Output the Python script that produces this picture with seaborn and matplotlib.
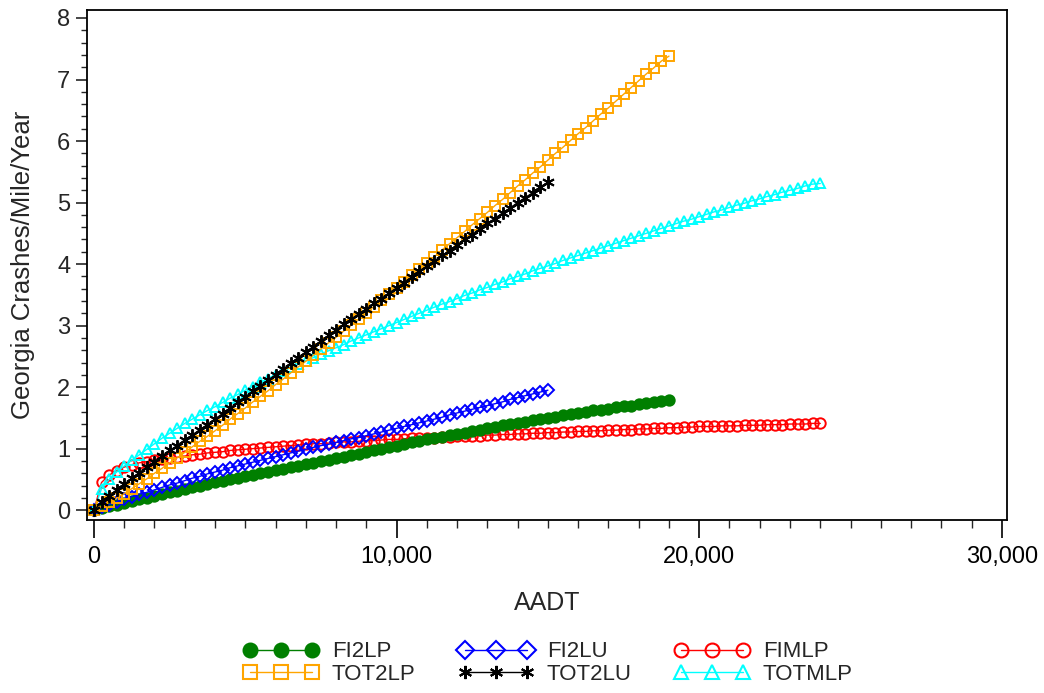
import numpy as np
import pandas as pd
import matplotlib
matplotlib.use("Agg")
import matplotlib.pyplot as plt
import seaborn as sns
from matplotlib.ticker import MultipleLocator, FuncFormatter

# ---- data (Georgia crashes / mile / year vs AADT) ----
STEP = 250
aadt_19k = np.arange(0, 19001, STEP)
aadt_15k = np.arange(0, 15001, STEP)
aadt_24k = np.arange(0, 24001, STEP)

FI2LP = [0.00, 0.03, 0.06, 0.09, 0.12, 0.15, 0.18, 0.20, 0.23, 0.26, 0.29, 0.31, 0.34,
         0.37, 0.40, 0.42, 0.45, 0.47, 0.50, 0.52, 0.55, 0.57, 0.60, 0.62, 0.65,
         0.67, 0.70, 0.72, 0.75, 0.77, 0.80, 0.82, 0.85, 0.87, 0.90, 0.92, 0.95,
         0.97, 1.00, 1.02, 1.05, 1.07, 1.10, 1.12, 1.15, 1.17, 1.19, 1.22, 1.24,
         1.26, 1.29, 1.31, 1.33, 1.35, 1.38, 1.40, 1.42, 1.44, 1.46, 1.48, 1.50,
         1.52, 1.54, 1.56, 1.58, 1.60, 1.62, 1.63, 1.65, 1.67, 1.69, 1.70, 1.72,
         1.74, 1.76, 1.77, 1.79]

TOT2LP = [0.00, 0.06, 0.13, 0.20, 0.27, 0.35, 0.43, 0.51, 0.60, 0.68, 0.77, 0.85, 0.94,
          1.03, 1.12, 1.20, 1.29, 1.38, 1.48, 1.57, 1.66, 1.76, 1.85, 1.94, 2.04,
          2.13, 2.23, 2.33, 2.42, 2.52, 2.62, 2.72, 2.81, 2.91, 3.01, 3.11, 3.21,
          3.31, 3.41, 3.51, 3.61, 3.71, 3.82, 3.92, 4.02, 4.12, 4.23, 4.33, 4.43,
          4.53, 4.64, 4.74, 4.84, 4.95, 5.05, 5.16, 5.27, 5.37, 5.48, 5.58, 5.69,
          5.80, 5.90, 6.01, 6.12, 6.22, 6.33, 6.44, 6.54, 6.65, 6.76, 6.87, 6.98,
          7.09, 7.19, 7.30, 7.38]

FI2LU = [0.00, 0.05, 0.09, 0.14, 0.18, 0.22, 0.26, 0.29, 0.33, 0.37, 0.41, 0.44, 0.48,
         0.52, 0.55, 0.59, 0.62, 0.65, 0.69, 0.72, 0.75, 0.78, 0.81, 0.84, 0.87,
         0.90, 0.93, 0.96, 0.99, 1.02, 1.05, 1.07, 1.10, 1.13, 1.16, 1.18, 1.21,
         1.24, 1.27, 1.30, 1.33, 1.36, 1.39, 1.42, 1.45, 1.48, 1.51, 1.55, 1.58,
         1.61, 1.64, 1.67, 1.70, 1.73, 1.76, 1.80, 1.83, 1.86, 1.89, 1.92, 1.95]

TOT2LU = [0.00, 0.13, 0.23, 0.33, 0.42, 0.52, 0.61, 0.70, 0.79, 0.88, 0.97, 1.05, 1.14,
          1.22, 1.31, 1.39, 1.48, 1.57, 1.66, 1.75, 1.84, 1.93, 2.02, 2.11, 2.20,
          2.29, 2.39, 2.48, 2.57, 2.66, 2.75, 2.84, 2.93, 3.02, 3.10, 3.19, 3.27,
          3.36, 3.44, 3.53, 3.61, 3.70, 3.79, 3.88, 3.97, 4.05, 4.14, 4.22, 4.31,
          4.40, 4.48, 4.57, 4.66, 4.74, 4.83, 4.91, 5.00, 5.08, 5.16, 5.25, 5.33]

FIMLP = [0.00, 0.45, 0.57, 0.64, 0.70, 0.74, 0.77, 0.79, 0.81, 0.83, 0.85, 0.86, 0.88,
         0.90, 0.91, 0.93, 0.94, 0.95, 0.97, 0.98, 0.99, 1.00, 1.01, 1.02, 1.03,
         1.04, 1.05, 1.06, 1.07, 1.08, 1.08, 1.09, 1.10, 1.11, 1.11, 1.12, 1.13,
         1.13, 1.14, 1.15, 1.15, 1.16, 1.17, 1.17, 1.18, 1.18, 1.19, 1.19, 1.20,
         1.20, 1.21, 1.21, 1.22, 1.22, 1.23, 1.23, 1.24, 1.24, 1.25, 1.25, 1.26,
         1.26, 1.27, 1.27, 1.28, 1.28, 1.29, 1.29, 1.30, 1.30, 1.31, 1.31, 1.32,
         1.32, 1.33, 1.33, 1.34, 1.34, 1.35, 1.35, 1.36, 1.36, 1.36, 1.37, 1.37,
         1.37, 1.38, 1.38, 1.38, 1.39, 1.39, 1.39, 1.40, 1.40, 1.40, 1.41, 1.41]

TOTMLP = [0.00, 0.35, 0.50, 0.62, 0.72, 0.81, 0.90, 0.99, 1.08, 1.17, 1.25, 1.33, 1.41,
          1.48, 1.55, 1.62, 1.68, 1.75, 1.82, 1.88, 1.95, 2.01, 2.08, 2.14, 2.20,
          2.26, 2.32, 2.37, 2.43, 2.48, 2.54, 2.59, 2.64, 2.69, 2.75, 2.80, 2.85,
          2.90, 2.95, 3.00, 3.05, 3.10, 3.15, 3.20, 3.25, 3.30, 3.35, 3.39, 3.44,
          3.49, 3.53, 3.58, 3.62, 3.67, 3.71, 3.76, 3.80, 3.84, 3.89, 3.93, 3.97,
          4.01, 4.06, 4.10, 4.14, 4.18, 4.22, 4.26, 4.30, 4.34, 4.38, 4.42, 4.46,
          4.50, 4.54, 4.58, 4.62, 4.66, 4.70, 4.73, 4.77, 4.81, 4.85, 4.88, 4.92,
          4.96, 4.99, 5.03, 5.06, 5.10, 5.13, 5.17, 5.20, 5.23, 5.27, 5.30, 5.31]

series = [
    # name, x, y, color, marker, filled
    ("FI2LP", aadt_19k, FI2LP, "#007F00", "o", True),
    ("TOT2LP", aadt_19k, TOT2LP, "#FFA500", "s", False),
    ("FI2LU", aadt_15k, FI2LU, "#0000FF", "D", False),
    ("TOT2LU", aadt_15k, TOT2LU, "#000000", (6, 2, 0), False),
    ("FIMLP", aadt_24k, FIMLP, "#FF0000", "o", False),
    ("TOTMLP", aadt_24k, TOTMLP, "#00FFFF", "^", False),
]

sns.set_style("ticks")
plt.rcParams["font.family"] = ["Liberation Sans", "DejaVu Sans"]

fig = plt.figure(figsize=(10.44, 6.93), dpi=100)
ax = fig.add_axes([87 / 1044, 1 - 520 / 693, (1007 - 87) / 1044, (520 - 10) / 693])

draw_order = ["FIMLP", "FI2LP", "FI2LU", "TOTMLP", "TOT2LP", "TOT2LU"]
msize = {"o": 7.5, "s": 7.5, "D": 6.5, "^": 7.5}
handles = {}
for name in draw_order:
    _, x, y, color, marker, filled = [s for s in series if s[0] == name][0]
    df = pd.DataFrame({"AADT": x, "rate": y})
    ms = msize.get(marker, 9) if not isinstance(marker, tuple) else 9
    sns.lineplot(data=df, x="AADT", y="rate", ax=ax, color=color, marker=marker,
                 markersize=ms, markerfacecolor=(color if filled else "none"),
                 markeredgecolor=color, markeredgewidth=1.4, linewidth=1.0,
                 label=name, legend=False)
    handles[name] = ax.lines[-1]

ax.set_xlim(-230, 30170)
ax.set_ylim(-0.16, 8.13)
ax.xaxis.set_major_locator(MultipleLocator(10000))
ax.xaxis.set_minor_locator(MultipleLocator(1000))
ax.yaxis.set_major_locator(MultipleLocator(1))
ax.yaxis.set_minor_locator(MultipleLocator(0.2))
ax.xaxis.set_major_formatter(FuncFormatter(lambda v, p: f"{int(v):,}"))
ax.tick_params(axis="x", which="major", length=13, width=1.2, labelsize=17, pad=6, colors="black")
ax.tick_params(axis="x", which="minor", length=6, width=1.0)
ax.tick_params(axis="y", which="major", length=8, width=1.2, labelsize=17, pad=4)
ax.tick_params(axis="y", which="minor", length=4, width=1.0)
for sp in ax.spines.values():
    sp.set_visible(True)
    sp.set_linewidth(1.3)
    sp.set_color("black")
ax.set_xlabel("AADT", fontsize=18, labelpad=16)
ax.set_ylabel("Georgia Crashes/Mile/Year", fontsize=18.5, labelpad=16)
ax.grid(False)

order = ["FI2LP", "TOT2LP", "FI2LU", "TOT2LU", "FIMLP", "TOTMLP"]
leg = fig.legend([handles[n] for n in order], order, ncol=3, loc="center",
                 bbox_to_anchor=(548 / 1044, 1 - 663 / 693), frameon=False,
                 fontsize=16, numpoints=3, handlelength=3.4, columnspacing=1.9,
                 handletextpad=0.6, labelspacing=0.05)
for h in leg.legend_handles:
    m = h.get_marker()
    h.set_markersize(10 if m in ("o",) else 9.5)
    h.set_markeredgewidth(1.5)

fig.savefig("out.png", dpi=100)
